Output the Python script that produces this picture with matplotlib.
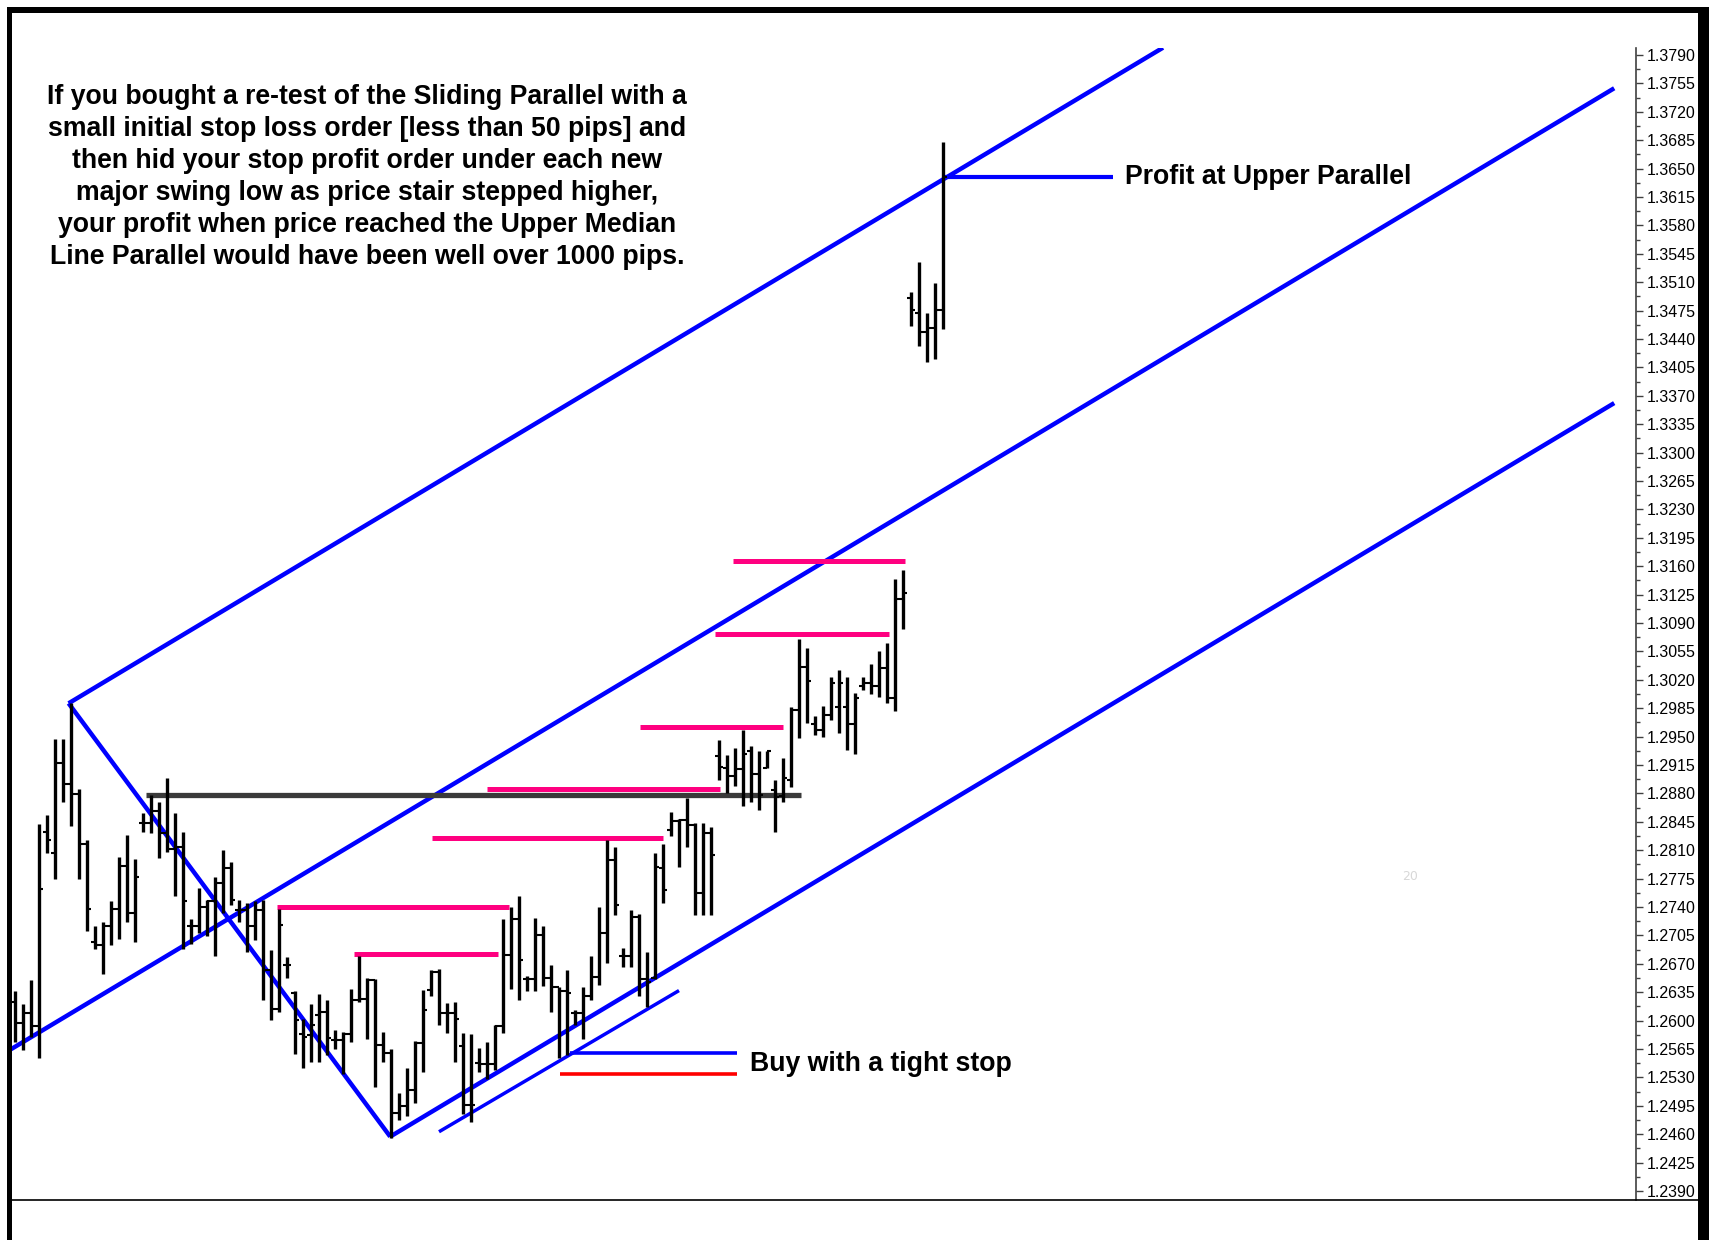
import numpy as np
import matplotlib.pyplot as plt
from matplotlib.ticker import MultipleLocator, FormatStrFormatter
from matplotlib.patches import Rectangle
from matplotlib.lines import Line2D

# ---- OHLC bars, index 0..116 ----
highs = [1.2637, 1.2621, 1.2650, 1.2842, 1.2853, 1.2947, 1.2947, 1.2991, 1.2886, 1.2823,
         1.2716, 1.2722, 1.2747, 1.2801, 1.2829, 1.2799, 1.2856, 1.2878, 1.2869, 1.2899,
         1.2856, 1.2832, 1.2725, 1.2763, 1.2749, 1.2777, 1.2810, 1.2795, 1.2749, 1.2745,
         1.2747, 1.2749, 1.2687, 1.2737, 1.2678, 1.2637, 1.2602, 1.2620, 1.2633, 1.2625,
         1.2588, 1.2586, 1.2639, 1.2680, 1.2652, 1.2651, 1.2586, 1.2565, 1.2511, 1.2541,
         1.2575, 1.2638, 1.2662, 1.2664, 1.2622, 1.2623, 1.2585, 1.2584, 1.2566, 1.2573,
         1.2595, 1.2725, 1.2740, 1.2754, 1.2655, 1.2726, 1.2716, 1.2669, 1.2642, 1.2662,
         1.2613, 1.2641, 1.2679, 1.2740, 1.2823, 1.2814, 1.2689, 1.2736, 1.2731, 1.2685,
         1.2806, 1.2818, 1.2857, 1.2849, 1.2874, 1.2844, 1.2843, 1.2838, 1.2946, 1.2927,
         1.2936, 1.2958, 1.2938, 1.2932, 1.2932, 1.2897, 1.2923, 1.2987, 1.3070, 1.3059,
         1.2975, 1.2988, 1.3023, 1.3032, 1.3023, 1.3004, 1.3023, 1.3040, 1.3056, 1.3065,
         1.3144, 1.3155, 1.3498, 1.3535, 1.3472, 1.3509, 1.3683]
lows = [1.2574, 1.2564, 1.2580, 1.2554, 1.2806, 1.2775, 1.2869, 1.2840, 1.2775, 1.2710,
        1.2688, 1.2658, 1.2693, 1.2701, 1.2721, 1.2697, 1.2832, 1.2831, 1.2800, 1.2808,
        1.2753, 1.2688, 1.2695, 1.2708, 1.2704, 1.2679, 1.2732, 1.2743, 1.2722, 1.2685,
        1.2699, 1.2625, 1.2601, 1.2610, 1.2652, 1.2559, 1.2542, 1.2549, 1.2549, 1.2558,
        1.2565, 1.2534, 1.2574, 1.2623, 1.2577, 1.2518, 1.2549, 1.2455, 1.2478, 1.2482,
        1.2498, 1.2537, 1.2630, 1.2595, 1.2585, 1.2549, 1.2485, 1.2475, 1.2537, 1.2528,
        1.2539, 1.2585, 1.2639, 1.2625, 1.2636, 1.2636, 1.2643, 1.2610, 1.2554, 1.2558,
        1.2595, 1.2577, 1.2625, 1.2644, 1.2671, 1.2730, 1.2666, 1.2666, 1.2630, 1.2617,
        1.2651, 1.2745, 1.2827, 1.2789, 1.2814, 1.2730, 1.2730, 1.2730, 1.2897, 1.2881,
        1.2889, 1.2865, 1.2870, 1.2860, 1.2911, 1.2832, 1.2870, 1.2888, 1.2948, 1.2967,
        1.2952, 1.2949, 1.2970, 1.2955, 1.2934, 1.2929, 1.3008, 1.3003, 1.2999, 1.2991,
        1.2981, 1.3083, 1.3456, 1.3431, 1.3412, 1.3415, 1.3452]
opens = [1.2623, 1.2597, 1.2609, 1.2593, 1.2833, 1.2806, 1.2917, 1.2892, 1.2879, 1.2818,
         1.2697, 1.2693, 1.2716, 1.2738, 1.2790, 1.2732, 1.2844, 1.2844, 1.2858, 1.2831,
         1.2812, 1.2814, 1.2716, 1.2716, 1.2740, 1.2747, 1.2769, 1.2788, 1.2736, 1.2736,
         1.2716, 1.2736, 1.2662, 1.2614, 1.2669, 1.2634, 1.2583, 1.2582, 1.2607, 1.2610,
         1.2576, 1.2576, 1.2583, 1.2625, 1.2626, 1.2650, 1.2570, 1.2560, 1.2486, 1.2495,
         1.2514, 1.2572, 1.2638, 1.2660, 1.2609, 1.2609, 1.2569, 1.2496, 1.2548, 1.2547,
         1.2547, 1.2593, 1.2681, 1.2725, 1.2651, 1.2651, 1.2706, 1.2652, 1.2642, 1.2636,
         1.2609, 1.2609, 1.2630, 1.2654, 1.2708, 1.2798, 1.2680, 1.2680, 1.2728, 1.2651,
         1.2652, 1.2788, 1.2835, 1.2846, 1.2847, 1.2841, 1.2757, 1.2831, 1.2926, 1.2911,
         1.2901, 1.2910, 1.2932, 1.2904, 1.2911, 1.2884, 1.2877, 1.2897, 1.2983, 1.3036,
         1.2966, 1.2958, 1.2977, 1.2987, 1.2987, 1.2966, 1.3012, 1.3016, 1.3012, 1.3034,
         1.2997, 1.3120, 1.3490, 1.3472, 1.3449, 1.3453, 1.3476]
closes = [1.2597, 1.2609, 1.2593, 1.2762, 1.2823, 1.2917, 1.2892, 1.2879, 1.2818, 1.2738,
          1.2693, 1.2716, 1.2738, 1.2790, 1.2732, 1.2777, 1.2844, 1.2858, 1.2831, 1.2812,
          1.2814, 1.2747, 1.2716, 1.2740, 1.2747, 1.2769, 1.2788, 1.2749, 1.2736, 1.2716,
          1.2736, 1.2662, 1.2614, 1.2718, 1.2669, 1.2601, 1.2580, 1.2595, 1.2610, 1.2578,
          1.2576, 1.2583, 1.2625, 1.2626, 1.2650, 1.2570, 1.2560, 1.2486, 1.2495, 1.2514,
          1.2572, 1.2613, 1.2660, 1.2609, 1.2609, 1.2602, 1.2496, 1.2496, 1.2547, 1.2547,
          1.2593, 1.2681, 1.2725, 1.2675, 1.2651, 1.2706, 1.2652, 1.2642, 1.2636, 1.2634,
          1.2609, 1.2630, 1.2654, 1.2708, 1.2798, 1.2743, 1.2680, 1.2728, 1.2651, 1.2648,
          1.2789, 1.2761, 1.2846, 1.2847, 1.2841, 1.2757, 1.2831, 1.2804, 1.2913, 1.2901,
          1.2910, 1.2929, 1.2904, 1.2878, 1.2932, 1.2876, 1.2899, 1.2983, 1.3036, 1.3018,
          1.2958, 1.2977, 1.3016, 1.3016, 1.2966, 1.2997, 1.3016, 1.3012, 1.3034, 1.2997,
          1.3120, 1.3127, 1.3476, 1.3449, 1.3454, 1.3476, 1.3640]

# ---- drawn objects (bar index, price) ----
upper_x, upper_y = [6.7, 143.5], [1.2991, 1.3799]
median_x, median_y = [-0.625, 199.9], [1.2564, 1.3749]
lower_x, lower_y = [46.9, 199.9], [1.2457, 1.3361]
handle_x, handle_y = [6.7, 46.9], [1.2991, 1.2457]
sliding_x, sliding_y = [53.0, 83.0], [1.2463, 1.2637]
resist_x, resist_y = [16.4, 98.25], 1.2878
pink_x0 = [32.7, 42.4, 52.1, 59.0, 78.1, 87.5, 89.7]
pink_x1 = [61.8, 60.4, 81.0, 88.1, 95.95, 109.2, 111.3]
pink_y = [1.2740, 1.2682, 1.2825, 1.2885, 1.2962, 1.3077, 1.3166]
buy_x, buy_y = [69.4, 90.2], 1.2560
stop_x, stop_y = [68.1, 90.25], 1.2534
profit_x, profit_y = [116.0, 137.2], 1.3640

note_lines = ["If you bought a re-test of the Sliding Parallel with a",
              "small initial stop loss order [less than 50 pips] and",
              "then hid your stop profit order under each new",
              "major swing low as price stair stepped higher,",
              "your profit when price reached the Upper Median",
              "Line Parallel would have been well over 1000 pips."]

W, H = 1709, 1240
fig = plt.figure(figsize=(W / 100, H / 100), dpi=100)
fig.patch.set_facecolor('white')

def fx(px): return px / W
def fy(py): return 1 - py / H

ax = fig.add_axes([fx(12), fy(1200), fx(1636) - fx(12), fy(48) - fy(1200)])
ax.set_xlim(-0.375, 202.625)
ax.set_ylim(1.23789, 1.37986)

idx = np.arange(len(highs))
ax.vlines(idx, lows, highs, color='black', lw=2.4, zorder=4)
ax.hlines(opens, idx - 0.45, idx, color='black', lw=1.5, zorder=4)
ax.hlines(closes, idx, idx + 0.45, color='black', lw=1.5, zorder=4)

blue = '#0000ff'
for xs, ys in [(upper_x, upper_y), (median_x, median_y), (lower_x, lower_y), (handle_x, handle_y)]:
    ax.plot(xs, ys, color=blue, lw=3.2, solid_capstyle='butt', zorder=3)
ax.plot(sliding_x, sliding_y, color=blue, lw=2.5, solid_capstyle='butt', zorder=3)
ax.hlines(resist_y, *resist_x, color='#3a3a3a', lw=3.8, zorder=3)
ax.hlines(pink_y, pink_x0, pink_x1, color='#ff0080', lw=3.6, zorder=3)
ax.hlines(buy_y, *buy_x, color=blue, lw=2.6, zorder=3)
ax.hlines(stop_y, *stop_x, color='#ff0000', lw=2.6, zorder=3)
ax.hlines(profit_y, *profit_x, color=blue, lw=3.0, zorder=3)

tf = ['Liberation Sans', 'DejaVu Sans']
fs = 19.2
for i, line in enumerate(note_lines):
    ax.text((367 - 12) / 1624, (1200 - (97 + 32 * i)) / 1152, line, transform=ax.transAxes,
            ha='center', va='center', fontsize=fs, fontweight='bold', family=tf)
ax.text(138.75, profit_y, 'Profit at Upper Parallel', ha='left', va='center',
        fontsize=fs, fontweight='bold', family=tf)
ax.text(91.9, 1.25465, 'Buy with a tight stop', ha='left', va='center',
        fontsize=fs, fontweight='bold', family=tf)
ax.text(174.4, 1.2778, '20', ha='center', va='center', fontsize=9, color='#d8d8d8')

for s in ['top', 'left', 'bottom']:
    ax.spines[s].set_visible(False)
ax.spines['right'].set_color('#404040')
ax.spines['right'].set_linewidth(1.2)
ax.set_xticks([])
ax.yaxis.tick_right()
ax.yaxis.set_major_locator(MultipleLocator(0.0035))
ax.yaxis.set_minor_locator(MultipleLocator(0.00175))
ax.yaxis.set_major_formatter(FormatStrFormatter('%.4f'))
ax.tick_params(axis='y', which='major', direction='out', length=5, width=1,
               color='#404040', labelsize=11.5, pad=3, labelcolor='black')
ax.tick_params(axis='y', which='minor', direction='out', length=3, width=1, color='#404040')
for lb in ax.get_yticklabels():
    lb.set_family(['Liberation Sans', 'DejaVu Sans'])

# window frame
k = dict(transform=fig.transFigure, color='black', lw=0)
fig.add_artist(Rectangle((fx(7), fy(13)), fx(1709) - fx(7), fy(7) - fy(13), **k))
fig.add_artist(Rectangle((fx(7), 0), fx(12) - fx(7), fy(7), **k))
fig.add_artist(Rectangle((fx(1698), 0), fx(1709) - fx(1698), fy(7), **k))
fig.add_artist(Line2D([fx(12), fx(1698)], [fy(1200), fy(1200)], transform=fig.transFigure,
                      color='black', lw=1.2))

fig.savefig('out.png', dpi=100, facecolor='white')
